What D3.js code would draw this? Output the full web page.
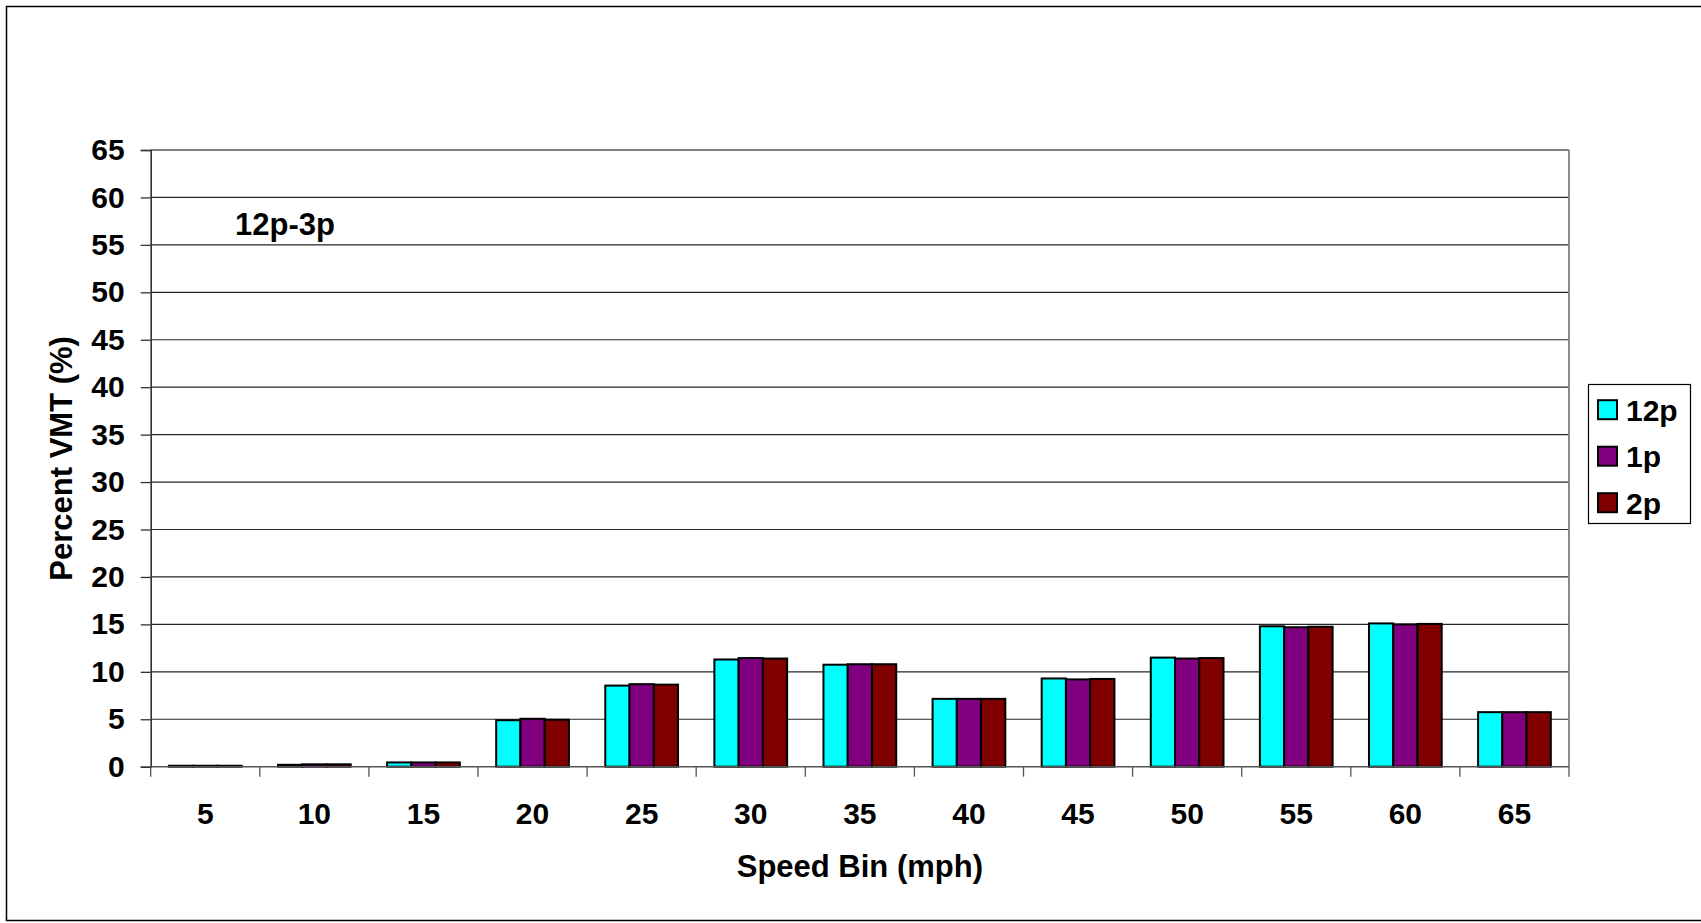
<!DOCTYPE html>
<html>
<head>
<meta charset="utf-8">
<script src="https://cdn.jsdelivr.net/npm/d3@7"></script>
<style>
  html, body { margin: 0; padding: 0; background: #fff; }
  svg { display: block; font-family: "Liberation Sans", Arial, sans-serif; }
</style>
</head>
<body>
<svg id="chart" width="1701" height="923"></svg>
<script>
// Speed bins (mph) along the x axis
const categories = ["5", "10", "15", "20", "25", "30", "35", "40", "45", "50", "55", "60", "65"];
// Percent of VMT in each speed bin, one list per hour
const seriesNames = ["12p", "1p", "2p"];
const vmt12p = [0.1, 0.2, 0.45, 4.9, 8.55, 11.3, 10.75, 7.15, 9.3, 11.5, 14.8, 15.1, 5.75];
const vmt1p  = [0.1, 0.25, 0.45, 5.05, 8.7, 11.45, 10.8, 7.15, 9.2, 11.4, 14.7, 15.0, 5.75];
const vmt2p  = [0.1, 0.25, 0.45, 4.95, 8.65, 11.4, 10.8, 7.15, 9.25, 11.45, 14.75, 15.05, 5.75];
const seriesColors = ["#00FFFF", "#800080", "#800000"];
const yTicks = [0, 5, 10, 15, 20, 25, 30, 35, 40, 45, 50, 55, 60, 65];
const periodLabel = "12p-3p";
const xTitle = "Speed Bin (mph)";
const yTitle = "Percent VMT (%)";

const seriesValues = [vmt12p, vmt1p, vmt2p];
const rows = categories.map((c, i) => ({
  cat: c,
  vals: seriesNames.map((s, j) => ({ key: s, value: seriesValues[j][i] }))
}));

const svg = d3.select("#chart");

// outer frame
svg.append("rect")
  .attr("x", 6.5).attr("y", 6.5)
  .attr("width", 1700).attr("height", 914)
  .attr("fill", "none").attr("stroke", "#000").attr("stroke-width", 1.5);

const plot = { left: 150.7, right: 1569, top: 150, bottom: 766.7 };

const x0 = d3.scaleBand()
  .domain(categories)
  .range([plot.left, plot.right])
  .paddingInner(1 / 3)
  .paddingOuter(1 / 6);

const x1 = d3.scaleBand()
  .domain(seriesNames)
  .range([0, x0.bandwidth()]);

const y = d3.scaleLinear().domain([0, 65]).range([plot.bottom, plot.top]);

// horizontal gridlines
svg.append("g")
  .selectAll("line")
  .data(yTicks.filter(t => t > 0))
  .join("line")
  .attr("x1", plot.left).attr("x2", plot.right)
  .attr("y1", d => y(d)).attr("y2", d => y(d))
  .attr("stroke", d => d === 65 ? "#808080" : "#262626")
  .attr("stroke-width", d => d === 65 ? 1.8 : 1.2);

// right edge of plot area
svg.append("line")
  .attr("x1", plot.right).attr("x2", plot.right)
  .attr("y1", plot.top).attr("y2", plot.bottom)
  .attr("stroke", "#808080").attr("stroke-width", 1.8);

// y axis
const yAxis = d3.axisLeft(y).tickValues(yTicks).tickSize(10).tickPadding(16);
const gy = svg.append("g")
  .attr("transform", `translate(${plot.left},0)`)
  .call(yAxis);
gy.select(".domain").attr("stroke", "#333").attr("stroke-width", 1.6);
gy.selectAll(".tick line").attr("stroke", "#333").attr("stroke-width", 1.3);
gy.selectAll(".tick text")
  .attr("font-size", 30).attr("font-weight", "bold")
  .attr("font-family", "Liberation Sans, Arial, sans-serif")
  .attr("fill", "#000");

// bars
const groups = svg.append("g")
  .selectAll("g")
  .data(rows)
  .join("g")
  .attr("transform", d => `translate(${x0(d.cat)},0)`);

groups.selectAll("rect")
  .data(d => d.vals)
  .join("rect")
  .attr("x", d => x1(d.key))
  .attr("width", x1.bandwidth())
  .attr("y", d => y(d.value))
  .attr("height", d => y(0) - y(d.value))
  .attr("fill", (d, i) => seriesColors[i])
  .attr("stroke", "#000")
  .attr("stroke-width", 2);

// x axis line and tick marks between bins
const step = x0.step();
svg.append("line")
  .attr("x1", plot.left).attr("x2", plot.right)
  .attr("y1", plot.bottom).attr("y2", plot.bottom)
  .attr("stroke", "#555").attr("stroke-width", 1.6);
svg.append("g")
  .selectAll("line")
  .data(d3.range(categories.length + 1))
  .join("line")
  .attr("x1", k => plot.left + k * step).attr("x2", k => plot.left + k * step)
  .attr("y1", plot.bottom).attr("y2", plot.bottom + 10)
  .attr("stroke", "#555").attr("stroke-width", 1.3);

// x tick labels
svg.append("g")
  .selectAll("text")
  .data(categories)
  .join("text")
  .attr("x", d => x0(d) + x0.bandwidth() / 2)
  .attr("y", 823.5)
  .attr("text-anchor", "middle")
  .attr("font-size", 30).attr("font-weight", "bold")
  .text(d => d);

// axis titles
svg.append("text")
  .attr("x", (plot.left + plot.right) / 2)
  .attr("y", 877)
  .attr("text-anchor", "middle")
  .attr("font-size", 31).attr("font-weight", "bold")
  .text(xTitle);

svg.append("text")
  .attr("transform", `translate(72,${(plot.top + plot.bottom) / 2}) rotate(-90)`)
  .attr("text-anchor", "middle")
  .attr("font-size", 31).attr("font-weight", "bold")
  .text(yTitle);

// period label inside plot
svg.append("text")
  .attr("x", 235)
  .attr("y", 235)
  .attr("font-size", 31).attr("font-weight", "bold")
  .text(periodLabel);

// legend
const legend = svg.append("g");
legend.append("rect")
  .attr("x", 1588.5).attr("y", 384.5)
  .attr("width", 102).attr("height", 139)
  .attr("fill", "#fff").attr("stroke", "#000").attr("stroke-width", 1.2);
const items = legend.selectAll("g.item")
  .data(seriesNames)
  .join("g")
  .attr("class", "item")
  .attr("transform", (d, i) => `translate(0,${409.7 + i * 46.5})`);
items.append("rect")
  .attr("x", 1598).attr("y", -9.5)
  .attr("width", 19).attr("height", 19)
  .attr("fill", (d, i) => seriesColors[i])
  .attr("stroke", "#000").attr("stroke-width", 2);
items.append("text")
  .attr("x", 1626)
  .attr("y", 11)
  .attr("font-size", 30).attr("font-weight", "bold")
  .text(d => d);
</script>
</body>
</html>
